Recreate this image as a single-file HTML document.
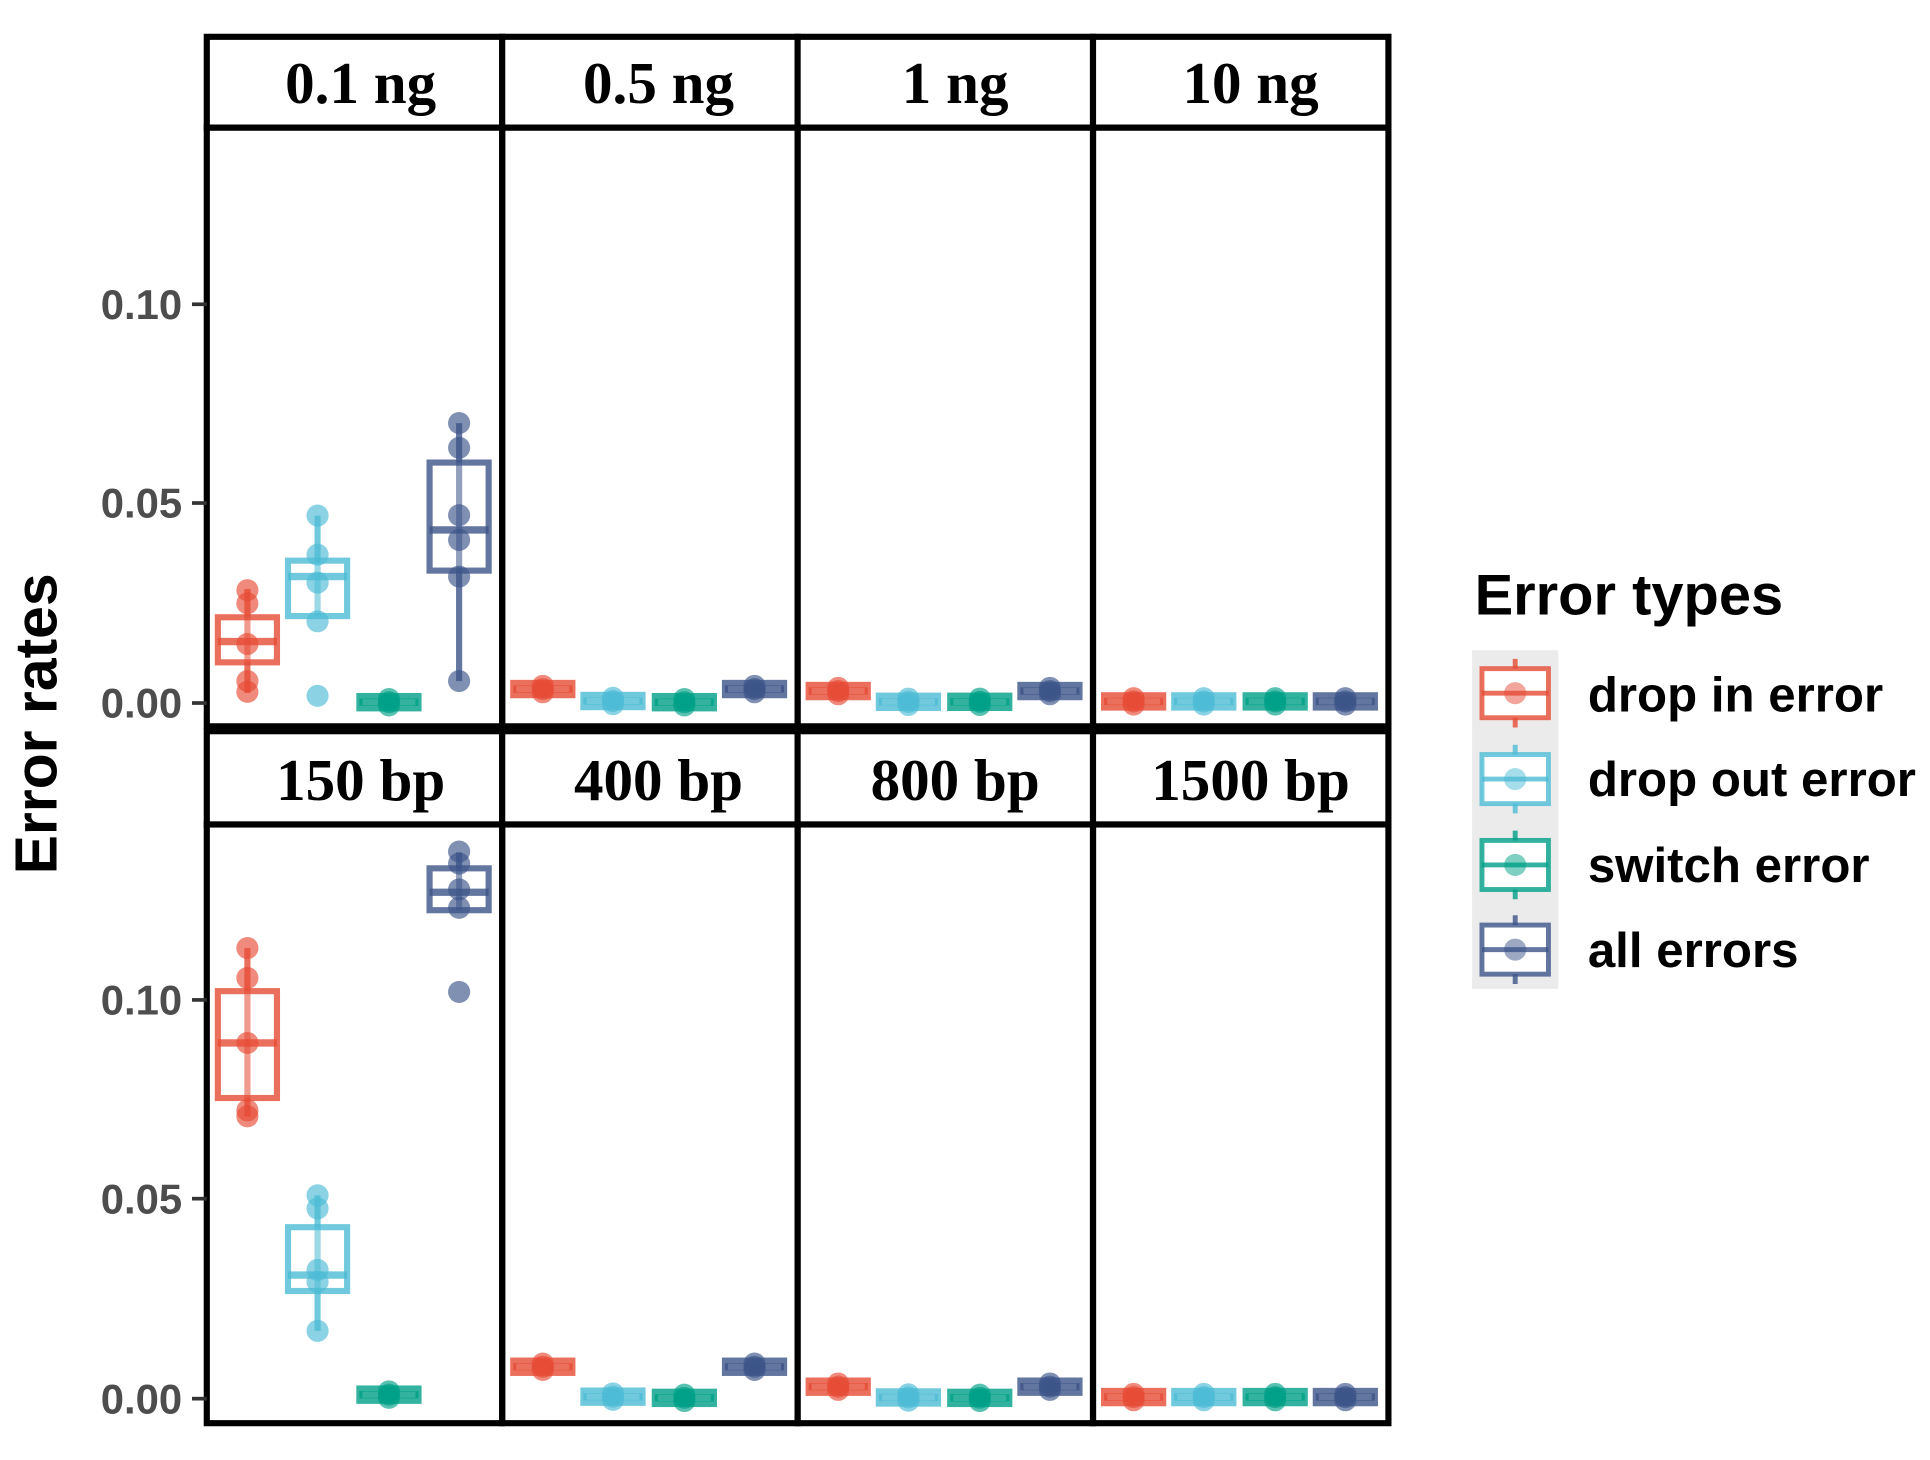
<!DOCTYPE html>
<html><head><meta charset="utf-8"><style>
html,body{margin:0;padding:0;background:#fff;}
svg{display:block;}
</style></head><body>
<svg id="s" width="1930" height="1460" viewBox="0 0 1568 1190" preserveAspectRatio="none" xmlns="http://www.w3.org/2000/svg">
<rect width="1568" height="1190" fill="#fff"/>
<g id="data"></g>
<g stroke="#000" stroke-width="5" fill="#fff">
<rect x="168" y="30" width="240" height="74"/><rect x="408" y="30" width="240" height="74"/><rect x="648" y="30" width="240" height="74"/><rect x="888" y="30" width="240" height="74"/>
<rect x="168" y="596" width="240" height="76"/><rect x="408" y="596" width="240" height="76"/><rect x="648" y="596" width="240" height="76"/><rect x="888" y="596" width="240" height="76"/>
</g>
<g stroke="#000" stroke-width="5" fill="none">
<rect x="168" y="104" width="240" height="488"/><rect x="408" y="104" width="240" height="488"/><rect x="648" y="104" width="240" height="488"/><rect x="888" y="104" width="240" height="488"/>
<rect x="168" y="672" width="240" height="488"/><rect x="408" y="672" width="240" height="488"/><rect x="648" y="672" width="240" height="488"/><rect x="888" y="672" width="240" height="488"/>
</g>
<g font-family="Liberation Serif, serif" font-weight="bold" font-size="48" text-anchor="middle" fill="#000">
<text x="293" y="84">0.1 ng</text><text x="535" y="84">0.5 ng</text><text x="776" y="84">1 ng</text><text x="1016" y="84">10 ng</text>
<text x="293" y="652">150 bp</text><text x="535" y="652">400 bp</text><text x="776" y="652">800 bp</text><text x="1016" y="652">1500 bp</text>
</g>
<g stroke="#333" stroke-width="3">
<line x1="156" y1="248" x2="168" y2="248"/><line x1="156" y1="410" x2="168" y2="410"/><line x1="156" y1="573" x2="168" y2="573"/>
<line x1="156" y1="815" x2="168" y2="815"/><line x1="156" y1="977" x2="168" y2="977"/><line x1="156" y1="1140" x2="168" y2="1140"/>
</g>
<g font-family="Liberation Sans, sans-serif" font-weight="bold" font-size="34" text-anchor="end" fill="#4d4d4d">
<text x="148" y="260">0.10</text><text x="148" y="422">0.05</text><text x="148" y="585">0.00</text>
<text x="148" y="827">0.10</text><text x="148" y="989">0.05</text><text x="148" y="1152">0.00</text>
</g>
<text transform="translate(46,590) rotate(-90)" font-family="Liberation Sans, sans-serif" font-weight="bold" font-size="48" text-anchor="middle" fill="#000">Error rates</text>
<text x="1198" y="501" font-family="Liberation Sans, sans-serif" font-weight="bold" font-size="47" fill="#000">Error types</text>
<rect x="1196" y="530" width="70" height="276" fill="#ebebeb"/>
<g id="leg"></g>
<g font-family="Liberation Sans, sans-serif" font-weight="bold" font-size="40" fill="#000">
<text x="1290" y="580">drop in error</text><text x="1290" y="649">drop out error</text><text x="1290" y="719">switch error</text><text x="1290" y="788">all errors</text>
</g>
</svg>
<script>
var C=["#E64B35","#4DBBD5","#00A087","#3C5488"];
var NS="http://www.w3.org/2000/svg";
var g=document.getElementById("data");
function el(t,a,p){var e=document.createElementNS(NS,t);for(var k in a)e.setAttribute(k,a[k]);(p||g).appendChild(e);return e;}
function bx(cx,base,d,c){
 var Y=function(v){return base-v*3250;};
 var w=24;
 el("line",{x1:cx,y1:Y(d[3]),x2:cx,y2:Y(d[4]),stroke:c,"stroke-width":5,"stroke-opacity":0.8});
 var t=Y(d[2]),b=Y(d[0]);if(b-t<6){var m=(t+b)/2;t=m-5;b=m+5;}
 el("rect",{x:cx-w,y:t,width:2*w,height:b-t,fill:"#fff","fill-opacity":0.3,stroke:c,"stroke-width":5,"stroke-opacity":0.8});
 el("line",{x1:cx-w,y1:Y(d[1]),x2:cx+w,y2:Y(d[1]),stroke:c,"stroke-width":6,"stroke-opacity":0.8});
 (d[5]||[]).forEach(function(v){el("circle",{cx:cx,cy:Y(v),r:9,fill:c,"fill-opacity":0.65});});
}
function sm(v){return [v-0.0008,v,v+0.0008,v-0.001,v+0.001,[v-0.0008,v,v+0.0008]];}
var yTop=573,yBot=1140;
var offs=[33,90,148,205],L=[168,408,648,888];
var T=[
 [[0.0102,0.0154,0.0215,0.0025,0.0286,[0.0028,0.0055,0.0148,0.025,0.0283]],
  [0.0218,0.0317,0.0357,0.0218,0.047,[0.0018,0.0205,0.0302,0.0372,0.047]],
  sm(0.0002),
  [0.0332,0.0434,0.0603,0.0055,0.0702,[0.0055,0.0317,0.0409,0.0471,0.064,0.0702]]],
 [sm(0.0035),sm(0.0005),sm(0.0002),sm(0.0035)],
 [sm(0.003),sm(0.0003),sm(0.0003),sm(0.003)],
 [sm(0.0004),sm(0.0004),sm(0.0004),sm(0.0004)]
];
var B=[
 [[0.0754,0.0892,0.1022,0.0708,0.113,[0.0708,0.0723,0.0892,0.1055,0.113]],
  [0.027,0.031,0.043,0.017,0.051,[0.017,0.0293,0.0323,0.0477,0.051]],
  sm(0.001),
  [0.1225,0.127,0.133,0.1225,0.137,[0.102,0.1231,0.1277,0.1342,0.1372]]],
 [sm(0.008),sm(0.0005),sm(0.0002),sm(0.008)],
 [sm(0.003),sm(0.0003),sm(0.0002),sm(0.003)],
 [sm(0.0004),sm(0.0004),sm(0.0004),sm(0.0004)]
];
for(var p=0;p<4;p++)for(var i=0;i<4;i++){bx(L[p]+offs[i],yTop,T[p][i],C[i]);bx(L[p]+offs[i],yBot,B[p][i],C[i]);}
var lg=document.getElementById("leg");
[565,635,705,774].forEach(function(y,i){var c=C[i];
 el("line",{x1:1231,y1:y-28,x2:1231,y2:y+28,stroke:c,"stroke-width":4,"stroke-opacity":0.8},lg);
 el("rect",{x:1204,y:y-20,width:54,height:40,fill:"#fff",stroke:c,"stroke-width":4,"stroke-opacity":0.8},lg);
 el("line",{x1:1204,y1:y,x2:1258,y2:y,stroke:c,"stroke-width":4,"stroke-opacity":0.8},lg);
 el("circle",{cx:1231,cy:y,r:9,fill:c,"fill-opacity":0.5},lg);
});
</script>
</body></html>
